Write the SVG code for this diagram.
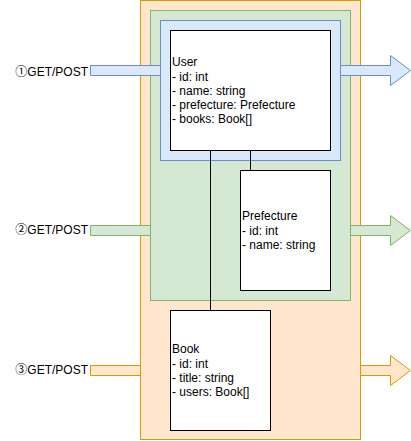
<svg xmlns="http://www.w3.org/2000/svg" width="411" height="441" viewBox="0 0 411 441">
<style>
text{font-family:"Liberation Sans",Arial,"Noto Sans CJK JP",sans-serif;font-size:12px;fill:#000}
.box{fill:#fff;stroke:#000;stroke-width:1}
.conn{stroke:#000;stroke-width:1;fill:none}
.blue{fill:#dae8fc;stroke:#6c8ebf}
.green{fill:#d5e8d4;stroke:#82b366}
.orange{fill:#ffe6cc;stroke:#d79b00}
</style>
<g id="arrow3"><path class="orange" d="M90.5,365.5H390.5V355.5L410.5,370.5L390.5,385.5V375.5H90.5Z"/></g>
<g id="outer"><rect class="orange" x="140.5" y="0.5" width="220" height="439"/></g>
<g id="arrow2"><path class="green" d="M90.5,225.5H390.5V215.5L410.5,230.5L390.5,245.5V235.5H90.5Z"/></g>
<g id="middle"><rect class="green" x="150.5" y="10.5" width="200" height="290"/></g>
<g id="arrow1"><path class="blue" d="M90.5,65.5H390.5V55.5L410.5,70.5L390.5,85.5V75.5H90.5Z"/></g>
<g id="inner"><rect class="blue" x="160.5" y="20.5" width="180" height="140"/></g>
<g id="connectors">
<path class="conn" d="M210.5,150.5V310.5"/>
<path class="conn" d="M250.5,150.5V170.5"/>
</g>
<g id="user">
<rect class="box" x="170.5" y="30.5" width="160" height="120"/>
<text x="172" y="66">User</text>
<text x="172" y="80.5">- id: int</text>
<text x="172" y="94.5">- name: string</text>
<text x="172" y="109">- prefecture: Prefecture</text>
<text x="172" y="123">- books: Book[]</text>
</g>
<g id="prefecture">
<rect class="box" x="240.5" y="170.5" width="90" height="120"/>
<text x="242" y="220">Prefecture</text>
<text x="242" y="234.5">- id: int</text>
<text x="242" y="249">- name: string</text>
</g>
<g id="book">
<rect class="box" x="170.5" y="310.5" width="100" height="120"/>
<text x="172" y="353">Book</text>
<text x="172" y="367.5">- id: int</text>
<text x="172" y="382">- title: string</text>
<text x="172" y="396">- users: Book[]</text>
</g>
<g id="labels">
<text x="88" y="76" text-anchor="end">①GET/POST</text>
<text x="88" y="234" text-anchor="end">②GET/POST</text>
<text x="88" y="374" text-anchor="end">③GET/POST</text>
</g>
</svg>
